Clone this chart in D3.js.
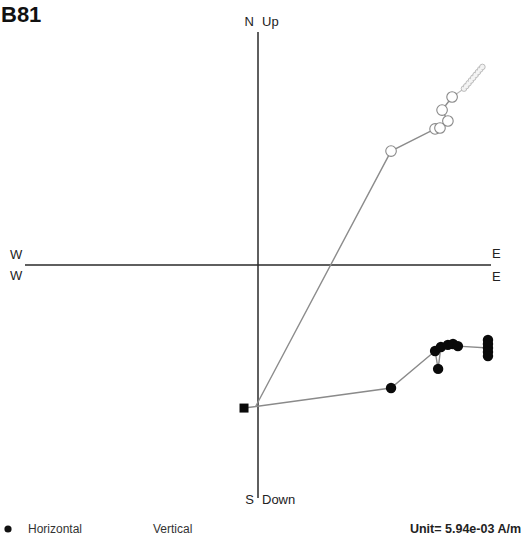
<!DOCTYPE html>
<html>
<head>
<meta charset="utf-8">
<script src="https://cdn.jsdelivr.net/npm/d3@7/dist/d3.min.js"></script>
<style>
  html, body { margin: 0; padding: 0; background: #fff; }
  svg { display: block; }
  text { font-family: "Liberation Sans", Arial, sans-serif; }
</style>
</head>
<body>
<svg id="chart" width="531" height="542"></svg>
<script>
// Orthogonal (Zijderveld) projection of specimen B81, in units of 5.94e-03 A/m / 10
const sampleName = "B81";
const unitLabel = "Unit= 5.94e-03 A/m";

// Horizontal projection: East (x) vs North (y)
const horizE = [-0.60, 5.71, 7.60, 7.73, 7.85, 8.15, 8.37, 8.58, 9.87, 9.87, 9.87, 9.87, 9.87];
const horizN = [-6.14, -5.28, -3.69, -4.46, -3.52, -3.43, -3.39, -3.48, -3.56, -3.22, -3.39, -3.73, -3.91];

// Vertical projection: East (x) vs Up (y)
const vertE = [-0.09, 5.71, 7.60, 7.81, 8.15, 7.90, 8.33, 8.84, 8.94, 9.04, 9.14, 9.24, 9.34, 9.44, 9.54, 9.63];
const vertU = [-6.05, 4.89, 5.84, 5.88, 6.18, 6.65, 7.21, 7.57, 7.68, 7.80, 7.92, 8.04, 8.16, 8.28, 8.40, 8.50];

const axisLabels = { north: "N", up: "Up", south: "S", down: "Down", west: "W", east: "E" };
const legendNames = ["Horizontal", "Vertical"];

const svg = d3.select("#chart");

const x = d3.scaleLinear().domain([-10, 10]).range([25, 491]);
const y = d3.scaleLinear().domain([-10, 10]).range([498, 32]);

// Axes through the origin
svg.append("line")
  .attr("x1", x(-10)).attr("x2", x(10))
  .attr("y1", y(0)).attr("y2", y(0))
  .attr("stroke", "#2a2a2a").attr("stroke-width", 1.5);
svg.append("line")
  .attr("x1", x(0)).attr("x2", x(0))
  .attr("y1", y(10)).attr("y2", y(-10))
  .attr("stroke", "#2a2a2a").attr("stroke-width", 1.5);

const line = d3.line().x(d => x(d[0])).y(d => y(d[1]));

const horiz = horizE.map((e, i) => [e, horizN[i]]);
const vert = vertE.map((e, i) => [e, vertU[i]]);

// Vertical projection path and open circles
svg.append("path")
  .datum(vert.slice(0, 7))
  .attr("d", line)
  .attr("fill", "none").attr("stroke", "#8c8c8c").attr("stroke-width", 1.4);
svg.append("path")
  .datum(vert.slice(6))
  .attr("d", line)
  .attr("fill", "none").attr("stroke", "#b8b8b8").attr("stroke-width", 1.2);
// High-step tail: small, closely spaced points merge into a pale band
svg.selectAll("circle.vtail")
  .data(vert.slice(7))
  .join("circle")
  .attr("class", "vtail")
  .attr("cx", d => x(d[0])).attr("cy", d => y(d[1]))
  .attr("r", 2.8)
  .attr("fill", "#f2f2f2").attr("stroke", "#b5b5b5").attr("stroke-width", 0.9);
svg.append("path")
  .datum(vert.slice(7))
  .attr("d", line)
  .attr("fill", "none").attr("stroke", "#f4f4f4").attr("stroke-width", 2.4);
svg.selectAll("circle.vert")
  .data(vert.slice(1, 7))
  .join("circle")
  .attr("class", "vert")
  .attr("cx", d => x(d[0])).attr("cy", d => y(d[1]))
  .attr("r", 5.3)
  .attr("fill", "#fff").attr("stroke", "#8a8a8a").attr("stroke-width", 1.1);

// Horizontal projection path and filled circles
svg.append("path")
  .datum(horiz)
  .attr("d", line)
  .attr("fill", "none").attr("stroke", "#8a8a8a").attr("stroke-width", 1.4);
svg.selectAll("circle.horiz")
  .data(horiz.slice(1))
  .join("circle")
  .attr("class", "horiz")
  .attr("cx", d => x(d[0])).attr("cy", d => y(d[1]))
  .attr("r", 5.2)
  .attr("fill", "#0a0a0a");
// First demagnetisation step marked with a square
svg.append("rect")
  .attr("x", x(horiz[0][0]) - 4.5).attr("y", y(horiz[0][1]) - 4.5)
  .attr("width", 9).attr("height", 9)
  .attr("fill", "#0a0a0a");

// Title
svg.append("text")
  .attr("x", 1).attr("y", 22)
  .attr("font-size", 22).attr("font-weight", "bold")
  .attr("fill", "#111")
  .text(sampleName);

// Axis direction labels
const lab = (tx, ty, t, anchor) => svg.append("text")
  .attr("x", tx).attr("y", ty)
  .attr("font-size", 13).attr("fill", "#222")
  .attr("text-anchor", anchor || "start")
  .text(t);
lab(x(0) - 4, 26, axisLabels.north, "end");
lab(x(0) + 4, 26, axisLabels.up);
lab(x(0) - 4, 504, axisLabels.south, "end");
lab(x(0) + 4, 504, axisLabels.down);
lab(10, 259, axisLabels.west);
lab(10, 280, axisLabels.west);
lab(492, 258, axisLabels.east);
lab(492, 281, axisLabels.east);

// Legend
svg.append("circle").attr("cx", 8).attr("cy", 529).attr("r", 3.6).attr("fill", "#111");
svg.append("text").attr("x", 28).attr("y", 533)
  .attr("font-size", 12).attr("fill", "#333").text(legendNames[0]);
svg.append("text").attr("x", 153).attr("y", 533)
  .attr("font-size", 12).attr("fill", "#333").text(legendNames[1]);
svg.append("text").attr("x", 521).attr("y", 533)
  .attr("text-anchor", "end")
  .attr("font-size", 12.5).attr("font-weight", "bold").attr("fill", "#222")
  .text(unitLabel);
</script>
</body>
</html>
